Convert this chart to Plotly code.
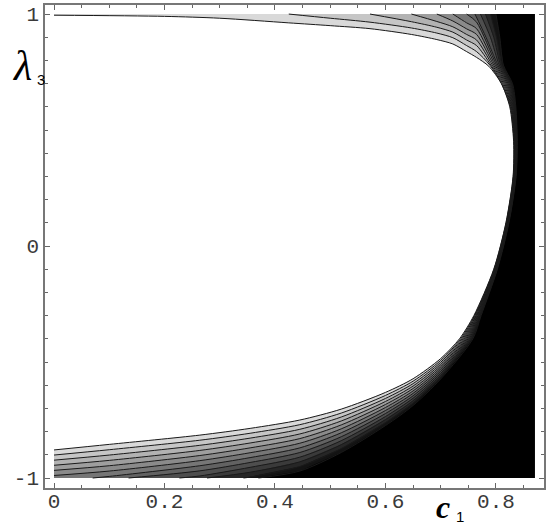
import plotly.graph_objects as go

# contour lines, (c1, lambda3) pairs, from top end to bottom end
K0 = [(0, 0.995), (0.2, 0.99), (0.3, 0.982), (0.425, 0.962), (0.5, 0.95), (0.572, 0.937),
      (0.647, 0.912), (0.693, 0.89), (0.722, 0.871), (0.747, 0.838), (0.765, 0.813),
      (0.787, 0.775), (0.81, 0.7), (0.825, 0.6), (0.832, 0.45), (0.831, 0.3), (0.818, 0.1),
      (0.796, -0.1), (0.76, -0.3), (0.734, -0.4), (0.7, -0.485), (0.65, -0.572), (0.6, -0.631),
      (0.52, -0.703), (0.445, -0.75), (0.355, -0.786), (0.264, -0.815), (0.1, -0.855), (0, -0.879)]
K1 = [(0.425, 1.0), (0.5, 0.982), (0.572, 0.965), (0.647, 0.94), (0.693, 0.918), (0.722, 0.898),
      (0.747, 0.864), (0.765, 0.838), (0.789, 0.78), (0.81, 0.7), (0.826, 0.6), (0.8326, 0.45),
      (0.8315, 0.3), (0.8185, 0.1), (0.7966, -0.1), (0.7612, -0.3), (0.7362, -0.4), (0.7, -0.493),
      (0.65, -0.5825), (0.6, -0.644), (0.52, -0.72), (0.445, -0.77), (0.355, -0.807),
      (0.264, -0.837), (0.1, -0.878), (0, -0.901)]
K2 = [(0.572, 1.0), (0.647, 0.967), (0.693, 0.943), (0.722, 0.922), (0.747, 0.888), (0.765, 0.864),
      (0.791, 0.78), (0.812, 0.7), (0.827, 0.6), (0.8332, 0.45), (0.832, 0.3), (0.819, 0.1),
      (0.7972, -0.1), (0.7624, -0.3), (0.7384, -0.4), (0.7, -0.501), (0.65, -0.593), (0.6, -0.657),
      (0.52, -0.737), (0.445, -0.79), (0.355, -0.828), (0.264, -0.859), (0.1, -0.901), (0, -0.923)]
K3 = [(0.647, 1.0), (0.693, 0.968), (0.722, 0.945), (0.747, 0.912), (0.765, 0.888), (0.7935, 0.78),
      (0.814, 0.7), (0.828, 0.6), (0.8338, 0.45), (0.8325, 0.3), (0.8195, 0.1), (0.7978, -0.1),
      (0.7636, -0.3), (0.7406, -0.4), (0.7, -0.509), (0.65, -0.6035), (0.6, -0.67), (0.52, -0.754),
      (0.445, -0.81), (0.355, -0.849), (0.264, -0.881), (0.1, -0.924), (0, -0.945)]
K4 = [(0.693, 1.0), (0.722, 0.97), (0.747, 0.936), (0.765, 0.912), (0.796, 0.78), (0.816, 0.7),
      (0.829, 0.6), (0.8344, 0.45), (0.833, 0.3), (0.82, 0.1), (0.7984, -0.1), (0.7648, -0.3),
      (0.7428, -0.4), (0.7, -0.517), (0.65, -0.614), (0.6, -0.683), (0.52, -0.771), (0.445, -0.83),
      (0.355, -0.87), (0.264, -0.903), (0.1, -0.947), (0, -0.967)]
K5 = [(0.722, 1.0), (0.747, 0.962), (0.765, 0.937), (0.7985, 0.78), (0.818, 0.7), (0.83, 0.6),
      (0.835, 0.45), (0.8335, 0.3), (0.8205, 0.1), (0.799, -0.1), (0.766, -0.3), (0.745, -0.4),
      (0.7, -0.525), (0.65, -0.6245), (0.6, -0.696), (0.52, -0.788), (0.445, -0.85), (0.355, -0.891),
      (0.264, -0.925), (0.1, -0.97), (0, -0.989)]
K6 = [(0.747, 1.0), (0.765, 0.965), (0.801, 0.78), (0.82, 0.7), (0.831, 0.6), (0.8356, 0.45),
      (0.834, 0.3), (0.821, 0.1), (0.7996, -0.1), (0.7672, -0.3), (0.7472, -0.4), (0.7, -0.533),
      (0.65, -0.635), (0.6, -0.709), (0.52, -0.805), (0.445, -0.87), (0.355, -0.912), (0.264, -0.947),
      (0.1, -0.993), (0.07, -1.0)]
K7 = [(0.762, 1.0), (0.782, 0.9), (0.8035, 0.78), (0.822, 0.7), (0.832, 0.6), (0.8362, 0.45),
      (0.8345, 0.3), (0.8215, 0.1), (0.8002, -0.1), (0.7684, -0.3), (0.7494, -0.4), (0.7, -0.541),
      (0.65, -0.6455), (0.6, -0.722), (0.52, -0.822), (0.445, -0.89), (0.355, -0.933),
      (0.264, -0.969), (0.135, -1.0)]
K8 = [(0.772, 1.0), (0.79, 0.9), (0.806, 0.78), (0.824, 0.7), (0.833, 0.6), (0.8368, 0.45),
      (0.835, 0.3), (0.822, 0.1), (0.8008, -0.1), (0.7696, -0.3), (0.7516, -0.4), (0.7, -0.549),
      (0.65, -0.656), (0.6, -0.735), (0.52, -0.839), (0.445, -0.91), (0.355, -0.954),
      (0.264, -0.991), (0.227, -1.0)]
K9 = [(0.781, 1.0), (0.796, 0.9), (0.8085, 0.78), (0.826, 0.7), (0.834, 0.6), (0.8374, 0.45),
      (0.8355, 0.3), (0.8225, 0.1), (0.8014, -0.1), (0.7708, -0.3), (0.7538, -0.4), (0.7, -0.557),
      (0.65, -0.6665), (0.6, -0.748), (0.52, -0.856), (0.445, -0.93), (0.355, -0.975), (0.277, -1.0)]
K10 = [(0.79, 1.0), (0.801, 0.9), (0.811, 0.78), (0.828, 0.7), (0.835, 0.6), (0.838, 0.45),
       (0.836, 0.3), (0.823, 0.1), (0.802, -0.1), (0.772, -0.3), (0.756, -0.4), (0.7, -0.565),
       (0.65, -0.677), (0.6, -0.761), (0.52, -0.873), (0.445, -0.95), (0.355, -0.996), (0.343, -1.0)]
K11 = [(0.8, 1.0), (0.807, 0.9), (0.8135, 0.78), (0.83, 0.7), (0.836, 0.6), (0.8386, 0.45),
       (0.8365, 0.3), (0.8235, 0.1), (0.8026, -0.1), (0.7732, -0.3), (0.7582, -0.4), (0.7, -0.573),
       (0.65, -0.6875), (0.6, -0.774), (0.52, -0.89), (0.445, -0.97), (0.37, -1.0)]

C_MIN, C_MAX = 0.0, 0.87          # plotted c1 domain
L_MIN, L_MAX = -1.0, 1.0          # plotted lambda3 domain
X_TICKS = [0, 0.2, 0.4, 0.6, 0.8]
X_TICKTEXT = ["0", "0.2", "0.4", "0.6", "0.8"]
Y_TICKS = [-1, 0, 1]
Y_TICKTEXT = ["-1", "0", "1"]

CONTOURS = [K0, K1, K2, K3, K4, K5, K6, K7, K8, K9, K10, K11]
# gray of the band lying beyond each contour (light next to the white region -> black)
BAND_GRAY = ["#d9d9d9", "#c6c6c6", "#b2b2b2", "#9e9e9e", "#8a8a8a", "#767676",
             "#626262", "#4e4e4e", "#3a3a3a", "#262626", "#131313", "#000000"]

fig = go.Figure()

# filled bands: everything on the far side of contour k, painted light to dark
for k, pts in enumerate(CONTOURS):
    xs = [p[0] for p in pts]
    ys = [p[1] for p in pts]
    if xs[0] == C_MIN:
        xs = [C_MIN] + xs
        ys = [L_MAX] + ys
    if xs[-1] == C_MIN:
        xs = xs + [C_MIN]
        ys = ys + [L_MIN]
    xs = xs + [C_MAX, C_MAX]
    ys = ys + [L_MIN, L_MAX]
    fig.add_trace(go.Scatter(x=xs, y=ys, mode="lines", fill="toself",
                             fillcolor=BAND_GRAY[k], line=dict(width=0),
                             hoverinfo="skip", showlegend=False))

# the contour lines themselves
for pts in CONTOURS:
    fig.add_trace(go.Scatter(x=[p[0] for p in pts], y=[p[1] for p in pts], mode="lines",
                             line=dict(color="#1a1a1a", width=1, shape="spline", smoothing=0.8),
                             hoverinfo="skip", showlegend=False))

tickfont = dict(family="Liberation Mono, Courier New, monospace", size=21, color="#3a3a3a")
fig.update_xaxes(range=[-0.0163, 0.887], tickvals=X_TICKS, ticktext=X_TICKTEXT,
                 ticks="inside", ticklen=5, tickcolor="#666666", automargin=False,
                 ticklabelstandoff=-7,
                 minor=dict(dtick=0.05, tick0=0, ticks="inside", ticklen=3, tickcolor="#666666"),
                 showline=True, linecolor="#777777", linewidth=1.5, mirror="ticks",
                 showgrid=False, zeroline=False, tickfont=tickfont)
fig.update_yaxes(range=[-1.043, 1.039], tickvals=Y_TICKS, ticktext=Y_TICKTEXT,
                 ticks="inside", ticklen=5, tickcolor="#666666", automargin=False,
                 minor=dict(dtick=0.1, tick0=0, ticks="inside", ticklen=3, tickcolor="#666666"),
                 showline=True, linecolor="#777777", linewidth=1.5, mirror="ticks",
                 showgrid=False, zeroline=False, tickfont=tickfont)

serif = "Liberation Serif, Times New Roman, serif"
sans = "Liberation Sans, Arial, sans-serif"
fig.add_annotation(x=-0.046, y=0.874, xref="paper", yref="paper", text="<i>λ</i>",
                   showarrow=False, font=dict(family=serif, size=42, color="#000"),
                   xanchor="center", yanchor="middle")
fig.add_annotation(x=-0.008, y=0.845, xref="paper", yref="paper", text="3",
                   showarrow=False, font=dict(family=sans, size=15, color="#000"),
                   xanchor="center", yanchor="middle")
fig.add_annotation(x=0.798, y=-0.039, xref="paper", yref="paper", text="<i><b>c</b></i>",
                   showarrow=False, font=dict(family=serif, size=32, color="#000"),
                   xanchor="center", yanchor="middle")
fig.add_annotation(x=0.832, y=-0.058, xref="paper", yref="paper", text="1",
                   showarrow=False, font=dict(family=sans, size=15, color="#000"),
                   xanchor="center", yanchor="middle")

fig.update_layout(width=550, height=526, margin=dict(l=45, r=6, t=5, b=38, autoexpand=False),
                  paper_bgcolor="white", plot_bgcolor="white", showlegend=False)

# page body margin would push the 550x526 figure off the window
fig.write_html("out.html", config={"displayModeBar": False},
               post_script="document.body.style.margin='0px';")
